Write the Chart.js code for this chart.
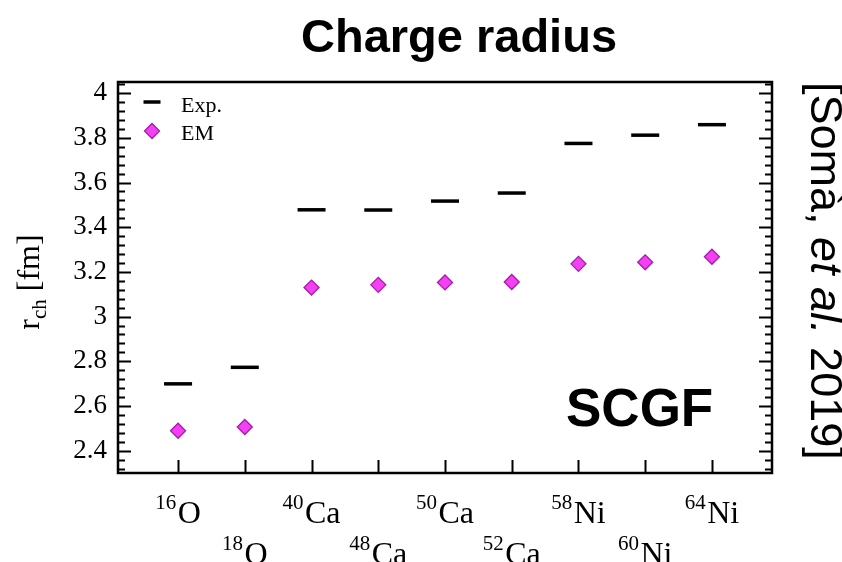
<!DOCTYPE html>
<html>
<head>
<meta charset="utf-8">
<title>Charge radius</title>
<script src="https://cdn.jsdelivr.net/npm/chart.js@4.4.1/dist/chart.umd.min.js"></script>
<style>
  html, body { margin: 0; padding: 0; background: #fff; }
  #wrap { width: 842px; height: 562px; }
</style>
</head>
<body>
<div id="wrap"><canvas id="chartRadius" width="842" height="562"></canvas></div>
<script>
// nuclei along the x axis (index = position)
const massNumbers = ["16", "18", "40", "48", "50", "52", "58", "60", "64"];
const elements = ["O", "O", "Ca", "Ca", "Ca", "Ca", "Ni", "Ni", "Ni"];

// charge radii in fm
const expRadius = [2.699, 2.773, 3.478, 3.477, 3.517, 3.553, 3.775, 3.812, 3.859];
const emRadius = [2.489, 2.506, 3.130, 3.142, 3.153, 3.155, 3.236, 3.243, 3.268];

const yTicks = [2.4, 2.6, 2.8, 3, 3.2, 3.4, 3.6, 3.8, 4];
const yMin = 2.30, yMax = 4.05, yMinorStep = 0.04;

const SERIF = "'Liberation Serif', 'Times New Roman', serif";
const SANS = "'Liberation Sans', Arial, sans-serif";

const expStyle = { pointStyle: "line", radius: 14, borderWidth: 3.5, borderColor: "#000", backgroundColor: "#000" };
const emStyle = { pointStyle: "rectRot", radius: 7.5, borderWidth: 1.3, borderColor: "#a01fa6", backgroundColor: "#f43ff4" };

// legend marker, styled by hand since drawPoint only traces the path
function legendMark(ctx, style, x, y, radius) {
  ctx.save();
  ctx.strokeStyle = style.borderColor;
  ctx.fillStyle = style.backgroundColor;
  ctx.lineWidth = style.borderWidth;
  Chart.helpers.drawPoint(ctx, Object.assign({}, style, { radius }), x, y);
  ctx.restore();
}

// frame, inward ticks, isotope labels, legend and annotations
const decorPlugin = {
  id: "decor",
  afterDraw(chart) {
    const ctx = chart.ctx;
    const a = chart.chartArea;
    const xs = chart.scales.x, ys = chart.scales.y;
    ctx.save();

    // frame
    ctx.strokeStyle = "#000";
    ctx.lineWidth = 2.5;
    ctx.strokeRect(a.left, a.top, a.right - a.left, a.bottom - a.top);

    // y ticks on both sides
    ctx.lineWidth = 2;
    ctx.beginPath();
    for (let k = Math.ceil(yMin / yMinorStep - 1e-9); k * yMinorStep <= yMax + 1e-9; k++) {
      const v = k * yMinorStep;
      const major = Math.abs(v * 5 - Math.round(v * 5)) < 1e-6;
      const len = major ? 13 : 7;
      const y = Math.round(ys.getPixelForValue(v)) + 0.5;
      ctx.moveTo(a.left, y); ctx.lineTo(a.left + len, y);
      ctx.moveTo(a.right, y); ctx.lineTo(a.right - len, y);
    }
    // x ticks, bottom only
    massNumbers.forEach((m, i) => {
      const x = Math.round(xs.getPixelForValue(i)) + 0.5;
      ctx.moveTo(x, a.bottom); ctx.lineTo(x, a.bottom - 13);
    });
    ctx.stroke();

    // isotope labels in two staggered rows
    ctx.fillStyle = "#000";
    ctx.textBaseline = "alphabetic";
    ctx.textAlign = "left";
    massNumbers.forEach((m, i) => {
      const base = i % 2 === 0 ? a.bottom + 50 : a.bottom + 91;
      ctx.font = "21px " + SERIF;
      const wSup = ctx.measureText(m).width;
      ctx.font = "32px " + SERIF;
      const wMain = ctx.measureText(elements[i]).width;
      const gap = 1.5;
      const x0 = xs.getPixelForValue(i) - (wSup + gap + wMain) / 2;
      ctx.font = "21px " + SERIF;
      ctx.fillText(m, x0, base - 14);
      ctx.font = "32px " + SERIF;
      ctx.fillText(elements[i], x0 + wSup + gap, base);
    });

    // legend
    const lx = a.left + 34;
    legendMark(ctx, expStyle, lx, a.top + 20, 8.5);
    legendMark(ctx, emStyle, lx, a.top + 49, 7.5);
    ctx.fillStyle = "#000";
    ctx.font = "22px " + SERIF;
    ctx.fillText("Exp.", a.left + 63, a.top + 30);
    ctx.fillText("EM", a.left + 63, a.top + 58);

    // method tag
    ctx.font = "bold 53px " + SANS;
    ctx.fillText("SCGF", 566, 426);

    // title
    ctx.textAlign = "center";
    ctx.font = "bold 47px " + SANS;
    ctx.fillText("Charge radius", 459, 52);

    // y axis title r_ch [fm]
    ctx.save();
    ctx.translate(39, 282);
    ctx.rotate(-Math.PI / 2);
    ctx.textAlign = "left";
    ctx.font = "32px " + SERIF;
    const wr = ctx.measureText("r").width;
    const wu = ctx.measureText(" [fm]").width;
    ctx.font = "21px " + SERIF;
    const wsub = ctx.measureText("ch").width;
    let u = -(wr + wsub + wu) / 2;
    ctx.font = "32px " + SERIF;
    ctx.fillText("r", u, 0); u += wr;
    ctx.font = "21px " + SERIF;
    ctx.fillText("ch", u, 7); u += wsub;
    ctx.font = "32px " + SERIF;
    ctx.fillText(" [fm]", u, 0);
    ctx.restore();

    // citation along the right edge, reading downwards
    ctx.save();
    ctx.translate(811, 0);
    ctx.rotate(Math.PI / 2);
    ctx.textAlign = "left";
    let c = 82;
    [["[Somà, ", false], ["et al.", true], [" 2019]", false]].forEach(([t, it]) => {
      ctx.font = (it ? "italic " : "") + "45px " + SANS;
      ctx.fillText(t, c, 0);
      c += ctx.measureText(t).width;
    });
    ctx.restore();

    ctx.restore();
  }
};

const ctx = document.getElementById("chartRadius").getContext("2d");

new Chart(ctx, {
  type: "scatter",
  data: {
    datasets: [
      Object.assign({ label: "Exp.", data: expRadius.map((v, i) => ({ x: i, y: v })) }, expStyle),
      Object.assign({ label: "EM", data: emRadius.map((v, i) => ({ x: i, y: v })) }, emStyle)
    ]
  },
  options: {
    responsive: false,
    animation: false,
    events: [],
    layout: { padding: { top: 82, right: 70, left: 0, bottom: 0 } },
    plugins: { legend: { display: false }, tooltip: { enabled: false }, title: { display: false } },
    scales: {
      x: {
        type: "linear",
        min: -0.9,
        max: 8.9,
        grid: { display: false, drawTicks: false },
        border: { display: false },
        ticks: { display: false },
        afterFit: s => { s.height = 89; }
      },
      y: {
        min: yMin,
        max: yMax,
        grid: { display: false, drawTicks: false },
        border: { display: false },
        afterBuildTicks: s => { s.ticks = yTicks.map(v => ({ value: v })); },
        ticks: {
          color: "#000",
          padding: 11,
          font: { family: SERIF, size: 27 },
          callback: v => String(v)
        },
        afterFit: s => { s.width = 118; }
      }
    }
  },
  plugins: [decorPlugin]
});
</script>
</body>
</html>
